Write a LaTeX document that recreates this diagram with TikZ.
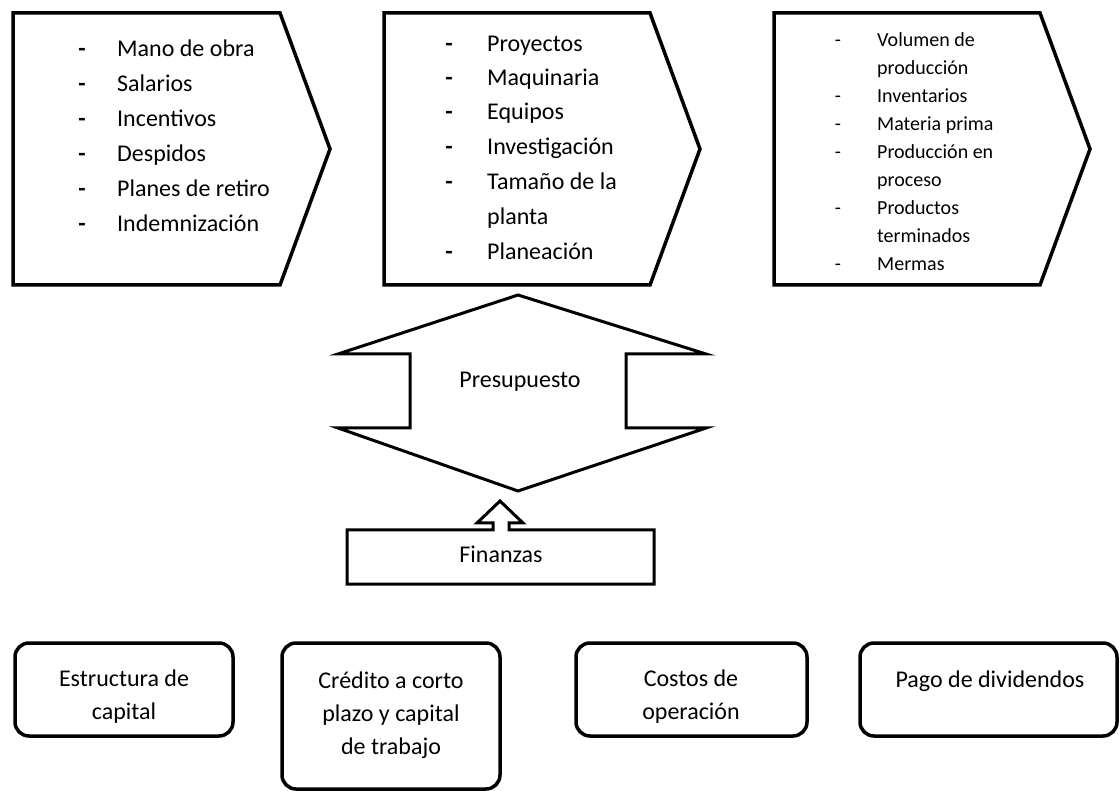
\documentclass[tikz,border=0pt]{standalone}
\usepackage{fontspec}
\setmainfont{Carlito}
\begin{document}
\begin{tikzpicture}[x=1pt,y=-1pt,
  shp/.style={draw=black, line width=3.5pt, line join=miter, fill=white},
  thin/.style={draw=black, line width=3pt, line join=miter, fill=white},
  rbox/.style={draw=black, line width=3.5pt, rounded corners=14pt, fill=white},
  big/.style={font=\fontsize{24}{35}\selectfont, inner sep=0pt},
  small/.style={font=\fontsize{20}{28}\selectfont, inner sep=0pt},
  btxt/.style={font=\fontsize{24}{33}\selectfont, inner sep=0pt, align=center}]

\useasboundingbox (0,0) rectangle (1120,791);

% ---------- top chevron boxes ----------
\coordinate (p1a) at (13,13);
\draw[shp] (p1a) -- (280,13) -- (330,149) -- (280,285) -- (13,285) -- cycle;
\coordinate (p2a) at (384,13);
\draw[shp] (p2a) -- (650,13) -- (700,149) -- (650,285) -- (384,285) -- cycle;
\coordinate (p3a) at (774,13);
\draw[shp] (p3a) -- (1040,13) -- (1090,149) -- (1040,285) -- (774,285) -- cycle;

% box 1 texts
\foreach \t [count=\i] in {Mano de obra, Salarios, Incentivos, Despidos, Planes de retiro, Indemnización} {
  \node[big, anchor=base] (ad\i) at (82,{57+35*(\i-1)}) {\textbf{-}};
  \node[big, anchor=base west] (a\i) at (117,{57+35*(\i-1)}) {\t};
}

% box 2 texts
\node[big, anchor=base] (bd1) at (449,52) {\textbf{-}};
\node[big, anchor=base west] (b1) at (487,52) {Proyectos};
\node[big, anchor=base] (bd2) at (449,86) {\textbf{-}};
\node[big, anchor=base west] (b2) at (487,86) {Maquinaria};
\node[big, anchor=base] (bd3) at (449,120) {\textbf{-}};
\node[big, anchor=base west] (b3) at (487,120) {Equipos};
\node[big, anchor=base] (bd4) at (449,155) {\textbf{-}};
\node[big, anchor=base west] (b4) at (487,155) {Investigación};
\node[big, anchor=base] (bd5) at (449,190) {\textbf{-}};
\node[big, anchor=base west] (b5) at (487,190) {Tamaño de la};
\node[big, anchor=base west] (b6) at (487,225) {planta};
\node[big, anchor=base] (bd7) at (449,260) {\textbf{-}};
\node[big, anchor=base west] (b7) at (487,260) {Planeación};

% box 3 texts
\node[small, anchor=base] (cd1) at (838,47) {-};
\node[small, anchor=base west] (c1) at (877,47) {Volumen de};
\node[small, anchor=base west] (c2) at (877,75) {producción};
\node[small, anchor=base] (cd3) at (838,103) {-};
\node[small, anchor=base west] (c3) at (877,103) {Inventarios};
\node[small, anchor=base] (cd4) at (838,131) {-};
\node[small, anchor=base west] (c4) at (877,131) {Materia prima};
\node[small, anchor=base] (cd5) at (838,159) {-};
\node[small, anchor=base west] (c5) at (877,159) {Producción en};
\node[small, anchor=base west] (c6) at (877,187) {proceso};
\node[small, anchor=base] (cd7) at (838,215) {-};
\node[small, anchor=base west] (c7) at (877,215) {Productos};
\node[small, anchor=base west] (c8) at (877,243) {terminados};
\node[small, anchor=base] (cd9) at (838,271) {-};
\node[small, anchor=base west] (c9) at (877,271) {Mermas};

% ---------- Presupuesto double arrow ----------
\coordinate (pt) at (518,295);
\coordinate (pb) at (518,491);
\draw[thin] (pt) -- (706,354) -- (626,354) -- (626,428) -- (706,428) -- (pb)
  -- (338,428) -- (410,428) -- (410,354) -- (338,354) -- cycle;
\node[big] (pres) at (520,382) {Presupuesto};

% ---------- Finanzas ----------
\coordinate (ft) at (500,501);
\draw[thin] (347,530) -- (493,530) -- (493,523) -- (477,523) -- (ft) -- (523,523)
  -- (509,523) -- (509,530) -- (654,530) -- (654,584) -- (347,584) -- cycle;
\node[big] (fin) at (501,554) {Finanzas};

% ---------- bottom rounded boxes ----------
\draw[rbox] (15,643) rectangle (233,736);
\node[btxt] (e1) at (124,697) {Estructura de\\capital};
\draw[rbox] (282,643) rectangle (500,789);
\node[btxt] (e2) at (391,715) {Crédito a corto\\plazo y capital\\de trabajo};
\draw[rbox] (576,643) rectangle (807,736);
\node[btxt] (e3) at (691,697) {Costos de\\operación};
\draw[rbox] (860,643) rectangle (1117,736);
\node[btxt] (e4) at (990,681) {Pago de dividendos};
\end{tikzpicture}
\end{document}
